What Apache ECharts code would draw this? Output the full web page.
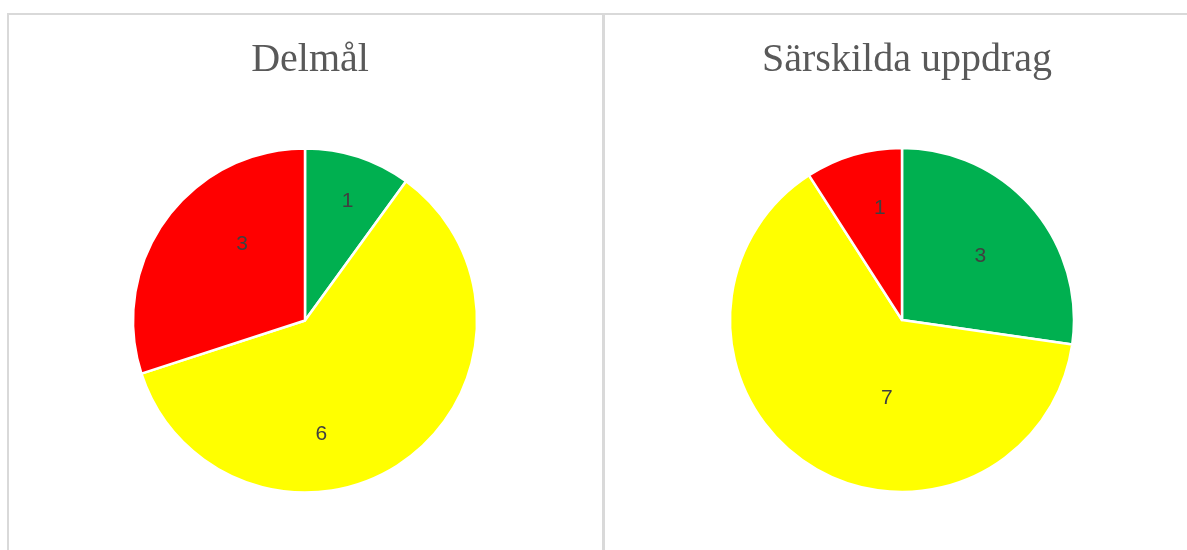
<!DOCTYPE html>
<html>
<head>
<meta charset="utf-8">
<script src="https://cdn.jsdelivr.net/npm/echarts@6/dist/echarts.min.js"></script>
<style>
html,body{margin:0;padding:0;background:#fff;}
#chart{width:1187px;height:550px;}
</style>
</head>
<body>
<div id="chart"></div>
<script>
// Data
const titles = ['Delmål', 'Särskilda uppdrag'];
const categories = ['Grön', 'Gul', 'Röd'];
const valuesDelmal = [1, 6, 3];
const valuesUppdrag = [3, 7, 1];

// Styles
const sliceColors = ['#00B050', '#FFFF00', '#FF0000'];
const labelShiftLeft = [[15, -35], [-36, 42], [9, -24]];
const labelShiftRight = [[11, -6], [33, 3], [3, -26]];
const labelFontSize = 21;

function buildData(vals) {
  return categories.map((c, i) => ({
    name: c,
    value: vals[i],
    itemStyle: { color: sliceColors[i] }
  }));
}

function pieSeries(vals, center, shifts) {
  return {
    type: 'pie',
    center: center,
    radius: [0, 172],
    startAngle: 90,
    clockwise: true,
    avoidLabelOverlap: false,
    silent: true,
    itemStyle: { borderColor: '#ffffff', borderWidth: 2.5 },
    label: {
      show: true,
      position: 'inside',
      formatter: '{c}',
      color: '#404040',
      fontSize: labelFontSize,
      fontFamily: 'Liberation Sans'
    },
    labelLine: { show: false },
    labelLayout: function (params) {
      const s = shifts[params.dataIndex];
      return { dx: s[0], dy: s[1] };
    },
    data: buildData(vals)
  };
}

const chart = echarts.init(document.getElementById('chart'), null, { renderer: 'canvas' });
chart.setOption({
  animation: false,
  backgroundColor: '#ffffff',
  title: [
    {
      text: titles[0], left: 305, top: 35, textAlign: 'center',
      textStyle: { fontFamily: 'Liberation Serif', fontSize: 40, fontWeight: 'normal', color: '#595959' }
    },
    {
      text: titles[1], left: 902, top: 35, textAlign: 'center',
      textStyle: { fontFamily: 'Liberation Serif', fontSize: 40, fontWeight: 'normal', color: '#595959' }
    }
  ],
  graphic: [
    { type: 'line', shape: { x1: 7, y1: 14, x2: 1187, y2: 14 }, style: { stroke: '#d9d9d9', lineWidth: 2 } },
    { type: 'line', shape: { x1: 8, y1: 13, x2: 8, y2: 550 }, style: { stroke: '#d9d9d9', lineWidth: 2 } },
    { type: 'line', shape: { x1: 603.5, y1: 13, x2: 603.5, y2: 550 }, style: { stroke: '#d9d9d9', lineWidth: 3 } }
  ],
  series: [
    pieSeries(valuesDelmal, [305, 320.5], labelShiftLeft),
    pieSeries(valuesUppdrag, [902, 320], labelShiftRight)
  ]
});
</script>
</body>
</html>
